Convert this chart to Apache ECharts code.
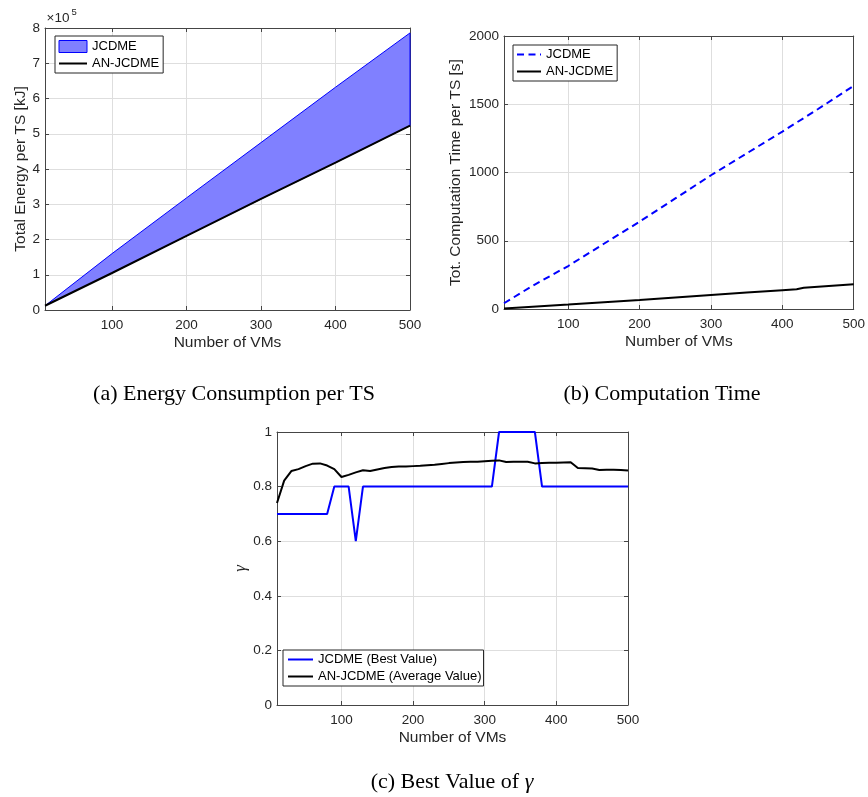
<!DOCTYPE html>
<html>
<head>
<meta charset="utf-8">
<script src="https://cdn.jsdelivr.net/npm/echarts@6/dist/echarts.min.js"></script>
<style>
  html, body { margin: 0; padding: 0; background: #fff; }
  #chart { width: 868px; height: 797px; }
</style>
</head>
<body>
<div id="chart"></div>
<script>
// (a) Total energy per time slot [kJ]
const energyVMs   = [10, 100, 200, 300, 400, 500];
const energyJCDME = [12000, 160000, 318000, 475000, 632000, 786000];
const energyAN    = [12000, 105000, 210000, 315000, 418000, 523000];

// (b) Total computation time per time slot [s]
const timeVMsJCDME = [10, 50, 100, 150, 200, 250, 300, 350, 400, 450, 500];
const timeJCDME    = [42, 170, 315, 478, 640, 810, 980, 1140, 1300, 1465, 1635];
const timeVMsAN    = [10, 50, 100, 150, 200, 250, 300, 350, 400, 420, 430, 450, 500];
const timeAN       = [3, 17, 33, 50, 66, 84, 102, 120, 138, 145, 156, 163, 181];

// (c) gamma: best value (JCDME) and average value (AN-JCDME)
const gammaVMs = [10, 20, 30, 40, 50, 60, 70, 80, 90, 100,
                  110, 120, 130, 140, 150, 160, 170, 180, 190, 200,
                  210, 220, 230, 240, 250, 260, 270, 280, 290, 300,
                  310, 320, 330, 340, 350, 360, 370, 380, 390, 400,
                  410, 420, 430, 440, 450, 460, 470, 480, 490, 500];
const gammaBest = [0.7, 0.7, 0.7, 0.7, 0.7, 0.7, 0.7, 0.7, 0.8, 0.8,
                   0.8, 0.6, 0.8, 0.8, 0.8, 0.8, 0.8, 0.8, 0.8, 0.8,
                   0.8, 0.8, 0.8, 0.8, 0.8, 0.8, 0.8, 0.8, 0.8, 0.8,
                   0.8, 1.0, 1.0, 1.0, 1.0, 1.0, 1.0, 0.8, 0.8, 0.8,
                   0.8, 0.8, 0.8, 0.8, 0.8, 0.8, 0.8, 0.8, 0.8, 0.8];
const gammaAvg  = [0.740, 0.822, 0.857, 0.864, 0.875, 0.884, 0.885, 0.877, 0.864, 0.835,
                   0.843, 0.852, 0.860, 0.857, 0.863, 0.868, 0.872, 0.874, 0.874, 0.875,
                   0.876, 0.878, 0.880, 0.883, 0.886, 0.888, 0.890, 0.891, 0.891, 0.893,
                   0.895, 0.896, 0.890, 0.891, 0.891, 0.891, 0.885, 0.886, 0.887, 0.887,
                   0.888, 0.889, 0.868, 0.867, 0.866, 0.861, 0.862, 0.862, 0.861, 0.859];

const xAxisTitle = 'Number of VMs';
const captions = ['(a) Energy Consumption per TS', '(b) Computation Time', '(c) Best Value of '];

const SANS = 'Liberation Sans, Arial, Helvetica, sans-serif';
const SERIF = 'Liberation Serif, Times New Roman, serif';
const AXIS = '#454545';
const GRIDC = '#dedede';
const TXT = '#262626';
const BLUE = '#0000ff';

function pairs(xs, ys) { return xs.map((x, i) => [x, ys[i]]); }

const grids = [
  { left: 45,  top: 28,  width: 365, height: 282 },
  { left: 504, top: 36,  width: 351, height: 273 },
  { left: 277, top: 432, width: 351, height: 273 }
];

const lineAxis = { show: true, onZero: false, lineStyle: { color: AXIS, width: 1 } };
const innerTick = { show: true, inside: true, length: 4, lineStyle: { color: AXIS, width: 1 } };

function bottomX(g) {
  return {
    type: 'value', gridIndex: g, position: 'bottom', min: 10, max: 500, splitNumber: 5,
    name: xAxisTitle, nameLocation: 'middle', nameGap: 25,
    nameTextStyle: { fontFamily: SANS, fontSize: 15.5, color: TXT },
    axisLine: lineAxis, axisTick: innerTick,
    axisLabel: { fontFamily: SANS, fontSize: 13.5, color: TXT, margin: 8,
                 formatter: v => (v === 10 ? '' : String(v)) },
    splitLine: { show: true, lineStyle: { color: GRIDC, width: 1 } }
  };
}
function topX(g) {
  return {
    type: 'value', gridIndex: g, position: 'top', min: 10, max: 500, splitNumber: 5,
    axisLine: lineAxis, axisTick: innerTick, axisLabel: { show: false }, splitLine: { show: false }
  };
}
function leftY(g, max, interval, name, gap, nameStyle, fmt) {
  return {
    type: 'value', gridIndex: g, position: 'left', min: 0, max: max, interval: interval,
    name: name, nameLocation: 'middle', nameGap: gap,
    nameTextStyle: Object.assign({ fontFamily: SANS, fontSize: 15.5, color: TXT }, nameStyle || {}),
    axisLine: lineAxis, axisTick: innerTick,
    axisLabel: { fontFamily: SANS, fontSize: 13.5, color: TXT, margin: 5, formatter: fmt || (v => String(v)) },
    splitLine: { show: true, lineStyle: { color: GRIDC, width: 1 } }
  };
}
function rightY(g, max, interval) {
  return {
    type: 'value', gridIndex: g, position: 'right', min: 0, max: max, interval: interval,
    axisLine: lineAxis, axisTick: innerTick, axisLabel: { show: false }, splitLine: { show: false }
  };
}

function legendBox(left, top, iconW, padding, gap, data) {
  return {
    left: left, top: top, orient: 'vertical', data: data,
    itemWidth: iconW, itemHeight: 12, itemGap: gap, padding: padding,
    borderColor: '#262626', borderWidth: 1, borderRadius: 0, backgroundColor: '#fff',
    selectedMode: false,
    textStyle: { fontFamily: SANS, fontSize: 13, color: '#000' },
    formatter: name => name.slice(2)
  };
}

// Band between the two energy curves: upper edge left to right, lower edge back
function renderEnergyBand(params, api) {
  if (params.dataIndex !== 0) return null;
  const pts = [];
  for (let i = 0; i < energyVMs.length; i++) pts.push(api.coord([energyVMs[i], energyJCDME[i]]));
  for (let i = energyVMs.length - 1; i >= 0; i--) pts.push(api.coord([energyVMs[i], energyAN[i]]));
  return {
    type: 'polygon',
    shape: { points: pts },
    style: { fill: '#8080ff', stroke: BLUE, lineWidth: 1 }
  };
}

const option = {
  animation: false,
  backgroundColor: '#fff',
  grid: grids,
  xAxis: [bottomX(0), bottomX(1), bottomX(2), topX(0), topX(1), topX(2)],
  yAxis: [
    leftY(0, 800000, 100000, 'Total Energy per TS [kJ]', 16.5, null, v => String(v / 100000)),
    leftY(1, 2000, 500, 'Tot. Computation Time per TS [s]', 40),
    leftY(2, 1, 0.2, 'γ', 26, { fontFamily: SERIF, fontStyle: 'italic', fontSize: 17 }),
    rightY(0, 800000, 100000), rightY(1, 2000, 500), rightY(2, 1, 0.2)
  ],
  legend: [
    legendBox(55, 36, 28, [4, 4, 3, 3], 4, [
      { name: 'a|JCDME', icon: 'rect', itemStyle: { color: '#8080ff', borderColor: BLUE, borderWidth: 1 } },
      { name: 'a|AN-JCDME', itemStyle: { opacity: 0 } }
    ]),
    legendBox(513, 45, 24, [3, 4, 3, 3], 4, [
      { name: 'b|JCDME', itemStyle: { opacity: 0 } },
      { name: 'b|AN-JCDME', itemStyle: { opacity: 0 } }
    ]),
    legendBox(283, 650, 25, [3, 2, 3, 4], 4, [
      { name: 'c|JCDME (Best Value)', itemStyle: { opacity: 0 } },
      { name: 'c|AN-JCDME (Average Value)', itemStyle: { opacity: 0 } }
    ])
  ],
  series: [
    // (a)
    { name: 'a|JCDME', type: 'custom', xAxisIndex: 0, yAxisIndex: 0, z: 3,
      data: energyVMs.map((x, i) => [x, energyAN[i], energyJCDME[i]]),
      encode: { x: 0, y: [1, 2] },
      renderItem: renderEnergyBand, itemStyle: { color: '#8080ff' } },
    { name: 'a|AN-JCDME', type: 'line', xAxisIndex: 0, yAxisIndex: 0,
      data: pairs(energyVMs, energyAN), symbol: 'none', z: 4,
      lineStyle: { color: '#000', width: 2 }, itemStyle: { color: '#000' } },
    // (b)
    { name: 'b|JCDME', type: 'line', xAxisIndex: 1, yAxisIndex: 1,
      data: pairs(timeVMsJCDME, timeJCDME), symbol: 'none',
      lineStyle: { color: BLUE, width: 2, type: [7, 4.5] }, itemStyle: { color: BLUE } },
    { name: 'b|AN-JCDME', type: 'line', xAxisIndex: 1, yAxisIndex: 1,
      data: pairs(timeVMsAN, timeAN), symbol: 'none',
      lineStyle: { color: '#000', width: 2 }, itemStyle: { color: '#000' } },
    // (c)
    { name: 'c|JCDME (Best Value)', type: 'line', xAxisIndex: 2, yAxisIndex: 2, clip: false,
      data: pairs(gammaVMs, gammaBest), symbol: 'none',
      lineStyle: { color: BLUE, width: 2 }, itemStyle: { color: BLUE } },
    { name: 'c|AN-JCDME (Average Value)', type: 'line', xAxisIndex: 2, yAxisIndex: 2, clip: false,
      data: pairs(gammaVMs, gammaAvg), symbol: 'none',
      lineStyle: { color: '#000', width: 2 }, itemStyle: { color: '#000' } }
  ],
  graphic: [
    { type: 'text', left: 46.5, top: 11,
      style: { text: '×10', font: '13.5px ' + SANS, fill: TXT } },
    { type: 'text', left: 71.5, top: 7,
      style: { text: '5', font: '9.5px ' + SANS, fill: TXT } },
    { type: 'text', x: 234, y: 394,
      style: { text: captions[0], font: '22px ' + SERIF, fill: '#000', align: 'center', verticalAlign: 'middle' } },
    { type: 'text', x: 662, y: 394,
      style: { text: captions[1], font: '22px ' + SERIF, fill: '#000', align: 'center', verticalAlign: 'middle' } },
    { type: 'text', x: 452, y: 782,
      style: { text: captions[2] + '{g|γ}', font: '22px ' + SERIF, fill: '#000', align: 'center', verticalAlign: 'middle',
               rich: { g: { fontFamily: SERIF, fontStyle: 'italic', fontSize: 22, fill: '#000' } } } }
  ]
};

const chart = echarts.init(document.getElementById('chart'));
chart.setOption(option);
</script>
</body>
</html>
